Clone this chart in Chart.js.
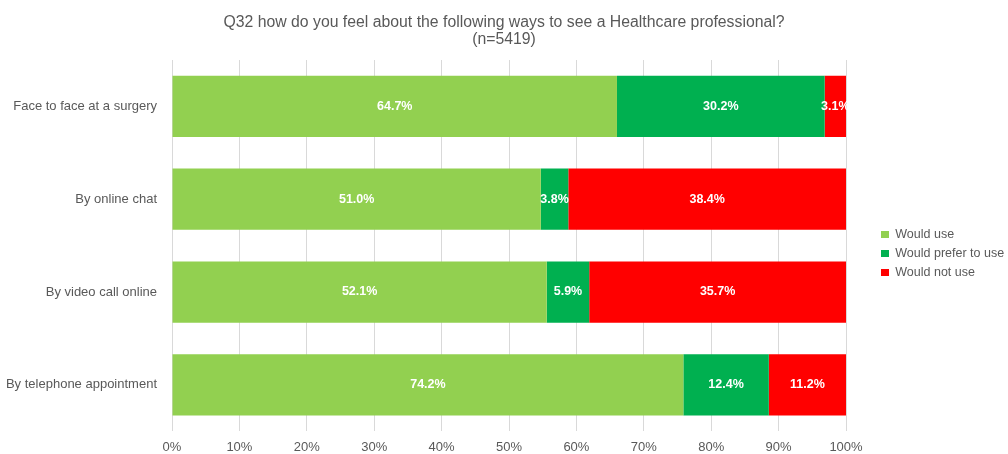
<!DOCTYPE html>
<html>
<head>
<meta charset="utf-8">
<script src="https://cdn.jsdelivr.net/npm/chart.js@4/dist/chart.umd.min.js"></script>
<style>
html,body{margin:0;padding:0;background:#fff;}
#wrap{width:1008px;height:454px;position:relative;}
</style>
</head>
<body>
<div id="wrap"><canvas id="c" width="1008" height="454"></canvas></div>
<script>
const categories = ['Face to face at a surgery', 'By online chat', 'By video call online', 'By telephone appointment'];
const wouldUse = [64.7, 51.0, 52.1, 74.2];
const wouldPrefer = [30.2, 3.8, 5.9, 12.4];
const wouldNot = [3.1, 38.4, 35.7, 11.2];
const seriesNames = ['Would use', 'Would prefer to use', 'Would not use'];
const xTicks = ['0%','10%','20%','30%','40%','50%','60%','70%','80%','90%','100%'];
const titleLines = ['Q32 how do you feel about the following ways to see a Healthcare professional?', '(n=5419)'];

const raw = [wouldUse, wouldPrefer, wouldNot];
const totals = categories.map((_, i) => raw.reduce((s, a) => s + a[i], 0));
const share = arr => arr.map((v, i) => v / totals[i] * 100);
const colors = ['#92D050', '#00B050', '#FF0000'];
const FONT = "'Liberation Sans', Arial, sans-serif";
const GREY = '#595959';

const labelPlugin = {
  id: 'barLabels',
  afterDatasetsDraw(chart) {
    const ctx = chart.ctx;
    ctx.save();
    ctx.font = 'bold 12.5px ' + FONT;
    ctx.fillStyle = '#ffffff';
    ctx.textAlign = 'center';
    ctx.textBaseline = 'middle';
    chart.data.datasets.forEach((ds, di) => {
      chart.getDatasetMeta(di).data.forEach((el, i) => {
        const v = raw[di][i];
        const cx = (el.x + el.base) / 2;
        ctx.fillText(v.toFixed(1) + '%', cx, el.y);
      });
    });
    ctx.restore();
  }
};

const legendWidth = {
  id: 'legendWidth',
  afterInit(chart) {
    const lg = chart.legend;
    if (!lg) return;
    const orig = lg.fit;
    lg.fit = function () {
      orig.call(this);
      this.width = 1008 - 881 + this.options.labels.padding;
    };
  },
  afterLayout(chart) {
    const lg = chart.legend;
    if (lg) { lg.top += 21; lg.bottom += 21; }
  }
};

new Chart(document.getElementById('c'), {
  type: 'bar',
  data: {
    labels: categories,
    datasets: raw.map((arr, di) => ({
      label: seriesNames[di],
      data: share(arr),
      backgroundColor: colors[di],
      borderWidth: 0,
      categoryPercentage: 1,
      barPercentage: 0.66
    }))
  },
  options: {
    indexAxis: 'y',
    responsive: false,
    animation: false,
    layout: { padding: { left: 0, right: 0, top: 0, bottom: -10.8 } },
    plugins: {
      title: {
        display: true,
        text: titleLines,
        color: GREY,
        font: { family: FONT, size: 15.8, weight: 'normal', lineHeight: 1.08 },
        padding: { top: 14.5, bottom: 11.4 }
      },
      legend: {
        position: 'right',
        labels: {
          color: GREY,
          font: { family: FONT, size: 12.5 },
          boxWidth: 8,
          boxHeight: 7,
          padding: 6.5
        }
      },
      tooltip: { enabled: false }
    },
    scales: {
      x: {
        stacked: true,
        min: 0,
        max: 100,
        border: { display: false },
        grid: { color: '#d9d9d9', drawTicks: false, tickLength: 0 },
        ticks: {
          stepSize: 10,
          color: GREY,
          font: { family: FONT, size: 13 },
          padding: 8.5,
          callback: (v, i) => xTicks[i]
        }
      },
      y: {
        stacked: true,
        border: { display: false },
        grid: { display: false, drawTicks: false },
        ticks: { color: GREY, font: { family: FONT, size: 13 }, padding: 15 },
        afterFit(s) { s.width = 172; }
      },
      gap: {
        axis: 'y',
        type: 'category',
        position: 'right',
        display: true,
        border: { display: false },
        grid: { display: false, drawTicks: false },
        ticks: { display: false },
        afterFit(s) { s.width = 28.5; }
      }
    }
  },
  plugins: [labelPlugin, legendWidth]
});
</script>
</body>
</html>
